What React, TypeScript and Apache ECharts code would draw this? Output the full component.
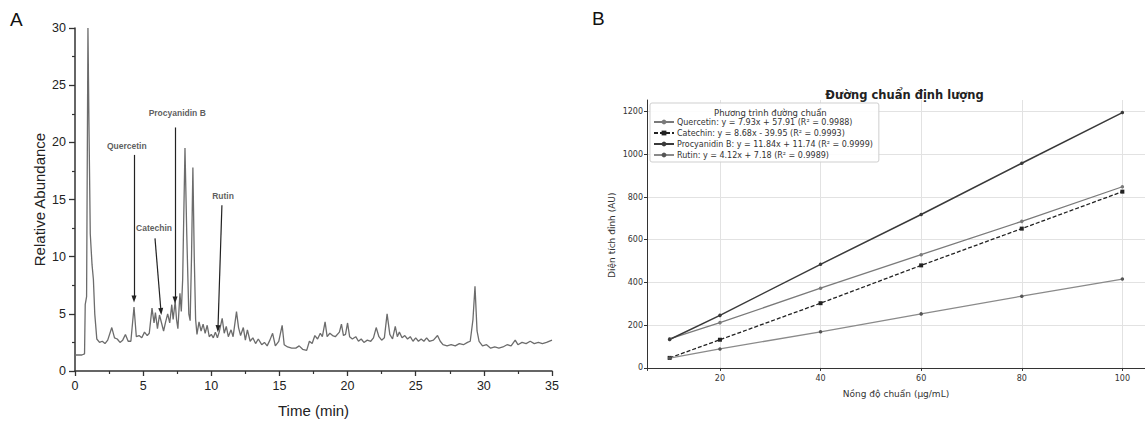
import React, { useEffect, useRef } from "react";
import * as echarts from "echarts";

// ---------- Panel A: chromatogram ----------
const timeMin = [
  0, 0.5, 0.7, 0.75, 0.85, 0.95, 1.02, 1.12, 1.25, 1.35, 1.45, 1.6, 1.8, 2.0, 2.2, 2.4, 2.7, 2.9, 3.1, 3.3,
  3.5, 3.7, 3.9, 4.1, 4.33, 4.5, 4.7, 4.9, 5.1, 5.3, 5.45, 5.65, 5.8, 5.9, 6.05, 6.2, 6.35, 6.5, 6.65, 6.8,
  6.95, 7.1, 7.2, 7.35, 7.45, 7.55, 7.7, 7.8, 7.9, 7.95, 8.07, 8.2, 8.35, 8.45, 8.55, 8.65, 8.75, 8.85, 8.95, 9.1,
  9.25, 9.4, 9.55, 9.7, 9.85, 10.0, 10.15, 10.3, 10.45, 10.6, 10.8, 10.95, 11.1, 11.25, 11.45, 11.6, 11.85, 12.0, 12.15, 12.35,
  12.5, 12.65, 12.85, 13.05, 13.25, 13.45, 13.7, 13.9, 14.1, 14.3, 14.5, 14.7, 14.95, 15.2, 15.35, 15.6, 15.9, 16.2, 16.45, 16.7,
  17.0, 17.2, 17.4, 17.6, 17.8, 18.0, 18.15, 18.35, 18.5, 18.7, 18.9, 19.1, 19.4, 19.55, 19.7, 19.85, 20.0, 20.15, 20.35, 20.6,
  20.8, 21.0, 21.2, 21.45, 21.7, 21.9, 22.1, 22.3, 22.5, 22.7, 22.9, 23.1, 23.3, 23.5, 23.65, 23.8, 24.0, 24.2, 24.4, 24.6,
  24.8, 25.0, 25.2, 25.4, 25.6, 25.8, 26.0, 26.3, 26.6, 26.8, 27.0, 27.3, 27.6, 27.9, 28.2, 28.5, 28.8, 29.0, 29.2, 29.35,
  29.5, 29.65, 29.9, 30.2, 30.5, 30.8, 31.1, 31.4, 31.7, 32.0, 32.3, 32.5, 32.8, 33.1, 33.4, 33.7, 34.0, 34.3, 34.6, 35.0,
];
const abundance = [
  1.4, 1.4, 1.5, 5.8, 6.5, 30, 22, 12, 9.3, 8, 5, 2.8, 2.5, 2.6, 2.4, 2.7, 3.8, 2.9, 2.8, 2.5,
  2.7, 3.2, 2.6, 2.6, 5.6, 3.0, 3.1, 2.9, 3.4, 3.1, 3.3, 5.5, 4.2, 5.1, 3.7, 4.9, 4.2, 3.5, 4.3, 5.0,
  4.2, 5.8, 4.5, 6.1, 4.5, 3.7, 6.8, 5.2, 8, 11.5, 19.5, 12, 5.0, 4.4, 10, 17.8, 10, 4.5, 3.2, 4.3,
  3.5, 4.1, 3.3, 4.0, 3.0, 3.2, 2.9, 3.4, 2.9, 3.5, 4.6, 3.3, 3.9, 3.0, 3.6, 3.0, 5.2, 3.8, 3.1, 3.8,
  2.7, 3.6, 2.6, 2.9, 2.4, 2.8, 2.3, 2.5, 2.2, 2.7, 3.3, 2.2, 2.6, 4.0, 2.3, 2.1, 2.0, 2.0, 2.2, 1.9,
  1.8, 2.6, 2.4, 3.1, 2.8, 3.3, 3.0, 4.3, 3.0, 3.3, 3.1, 3.0, 3.4, 4.1, 3.1, 3.2, 4.2, 3.0, 2.8, 3.0,
  2.6, 2.8, 2.5, 2.7, 2.6, 2.9, 3.8, 3.0, 2.7, 2.9, 5.0, 3.2, 2.8, 3.9, 3.0, 3.4, 2.9, 3.1, 2.8, 3.0,
  2.6, 2.9, 2.6, 2.8, 2.6, 2.9, 2.6, 2.7, 3.1, 2.6, 2.3, 2.2, 2.3, 2.2, 2.4, 2.3, 2.5, 2.6, 4.5, 7.4,
  3.5, 2.6, 2.2, 2.3, 2.0, 2.1, 2.0, 2.1, 2.3, 2.2, 2.7, 2.3, 2.5, 2.4, 2.6, 2.4, 2.5, 2.4, 2.5, 2.7,
];
const peakNames = ["Quercetin", "Catechin", "Procyanidin B", "Rutin"];
// arrow start [t, abundance] and arrow tip [t, abundance]
const arrowFrom = [[4.33, 18.9], [5.87, 11.6], [7.34, 21.3], [10.78, 14.5]];
const arrowTo = [[4.33, 6.3], [6.31, 5.2], [7.34, 6.2], [10.49, 3.7]];
const labelAt = [[3.8, 19.7], [5.8, 12.5], [7.5, 22.6], [10.86, 15.3]];

// ---------- Panel B: calibration curves ----------
const concentration = [10, 20, 40, 60, 80, 100];
const quercetinArea = [136, 212, 373, 530, 686, 848];
const catechinArea = [47, 132, 303, 480, 652, 825];
const procyanidinArea = [133, 246, 485, 718, 958, 1195];
const rutinArea = [46, 89, 169, 253, 336, 416];
const curveNames = [
  "Quercetin: y = 7.93x + 57.91 (R² = 0.9988)",
  "Catechin: y = 8.68x - 39.95 (R² = 0.9993)",
  "Procyanidin B: y = 11.84x + 11.74 (R² = 0.9999)",
  "Rutin: y = 4.12x + 7.18 (R² = 0.9989)",
];
const xTicksB = [20, 40, 60, 80, 100];
const yTicksB = [0, 200, 400, 600, 800, 1000, 1200];

export default function App() {
  const ref = useRef<HTMLDivElement>(null);
  useEffect(() => {
    document.body.style.margin = "0";
    const chart = echarts.init(ref.current!, null, { renderer: "svg" });
    const arial = "Liberation Sans, Arial, sans-serif";
    const dv = "DejaVu Sans, sans-serif";
    const chromData = timeMin.map((t, i) => [t, abundance[i]]);
    const mk = (arr: number[]) => concentration.map((c, i) => [c, arr[i]]);
    const plain = (v: number) => String(v);

    const option: any = {
      animation: false,
      backgroundColor: "#ffffff",
      grid: [
        { left: 75, top: 28, width: 477, height: 343 },
        { left: 647, top: 100, width: 505, height: 270.5 },
      ],
      xAxis: [
        {
          gridIndex: 0, type: "value", min: 0, max: 35, interval: 5,
          name: "Time (min)", nameLocation: "middle", nameGap: 32,
          nameTextStyle: { fontFamily: arial, fontSize: 15, color: "#222" },
          axisLine: { lineStyle: { color: "#333", width: 1.5 } },
          axisTick: { show: true, length: 5, lineStyle: { color: "#333", width: 1.3 } },
          minorTick: { show: true, splitNumber: 2, length: 3, lineStyle: { color: "#333", width: 1.2 } },
          axisLabel: { fontFamily: arial, fontSize: 12.5, color: "#222", margin: 8 },
          splitLine: { show: false },
        },
        {
          gridIndex: 1, type: "value", min: 5.5, max: 104.5,
          name: "Nồng độ chuẩn (µg/mL)", nameLocation: "middle", nameGap: 19,
          nameTextStyle: { fontFamily: dv, fontSize: 9, color: "#333" },
          axisLine: { lineStyle: { color: "#333", width: 1 } },
          axisTick: { show: true, length: 3, customValues: xTicksB, lineStyle: { color: "#333" } },
          axisLabel: { fontFamily: dv, fontSize: 8, color: "#333", margin: 4, customValues: xTicksB, formatter: plain },
          splitLine: { show: true, lineStyle: { color: "#e2e2e2", width: 1 } },
        },
      ],
      yAxis: [
        {
          gridIndex: 0, type: "value", min: 0, max: 30, interval: 5,
          name: "Relative Abundance", nameLocation: "middle", nameGap: 28, nameRotate: 90,
          nameTextStyle: { fontFamily: arial, fontSize: 15, color: "#222" },
          axisLine: { show: true, lineStyle: { color: "#333", width: 1.5 } },
          axisTick: { show: true, length: 6, lineStyle: { color: "#333", width: 1.3 } },
          minorTick: { show: true, splitNumber: 2, length: 3, lineStyle: { color: "#333", width: 1.2 } },
          axisLabel: { fontFamily: arial, fontSize: 12.5, color: "#222", margin: 9 },
          splitLine: { show: false },
        },
        {
          gridIndex: 1, type: "value", min: -12, max: 1254,
          name: "Diện tích đỉnh (AU)", nameLocation: "middle", nameGap: 31, nameRotate: 90,
          nameTextStyle: { fontFamily: dv, fontSize: 9, color: "#333" },
          axisLine: { show: true, lineStyle: { color: "#333", width: 1 } },
          axisTick: { show: true, length: 3, customValues: yTicksB, lineStyle: { color: "#333" } },
          axisLabel: { fontFamily: dv, fontSize: 8, color: "#333", margin: 4, customValues: yTicksB, formatter: plain },
          splitLine: { show: true, lineStyle: { color: "#e2e2e2", width: 1 } },
        },
      ],
      title: {
        text: "Đường chuẩn định lượng",
        left: 899.5, top: 84, textAlign: "center",
        textStyle: { fontFamily: dv, fontSize: 11.5, fontWeight: "bold", color: "#222" },
      },
      legend: {
        data: curveNames,
        orient: "vertical",
        left: 650, top: 103,
        padding: [15, 6, 3, 3],
        itemGap: 3,
        itemWidth: 20, itemHeight: 6,
        backgroundColor: "rgba(255,255,255,0.9)",
        borderColor: "#cfcfcf", borderWidth: 1, borderRadius: 2,
        textStyle: { fontFamily: dv, fontSize: 8, color: "#333", padding: [0, 0, 0, -2] },
      },
      graphic: [
        { type: "text", left: 10, top: 10, style: { text: "A", fontFamily: arial, fontSize: 19, fill: "#111" } },
        { type: "text", left: 592, top: 9, style: { text: "B", fontFamily: arial, fontSize: 19, fill: "#111" } },
        {
          type: "text", left: 714, top: 108,
          style: { text: "Phương trình đường chuẩn", fontFamily: dv, fontSize: 8.5, fill: "#333" },
          z: 100,
        },
      ],
      series: [
        {
          type: "line", xAxisIndex: 0, yAxisIndex: 0, data: chromData,
          showSymbol: false, symbol: "none",
          lineStyle: { color: "#6c6c6c", width: 1.3 },
          markLine: {
            silent: true,
            symbol: ["none", "triangle"], symbolSize: [5, 7],
            lineStyle: { color: "#222", width: 1.2, type: "solid" },
            label: { show: false },
            data: arrowFrom.map((f, i) => [{ coord: f }, { coord: arrowTo[i] }]),
          },
        },
        {
          type: "scatter", xAxisIndex: 0, yAxisIndex: 0,
          data: labelAt.map((p, i) => [p[0], p[1], peakNames[i]]),
          symbolSize: 1, itemStyle: { color: "rgba(0,0,0,0)" }, silent: true,
          label: {
            show: true, position: "inside", formatter: (p: any) => p.value[2],
            fontFamily: arial, fontSize: 8.5, fontWeight: "bold", color: "#333",
          },
        },
        {
          name: curveNames[0], type: "line", xAxisIndex: 1, yAxisIndex: 1, data: mk(quercetinArea),
          symbol: "circle", symbolSize: 3.5,
          lineStyle: { color: "#7a7a7a", width: 1.3 }, itemStyle: { color: "#7a7a7a" },
        },
        {
          name: curveNames[1], type: "line", xAxisIndex: 1, yAxisIndex: 1, data: mk(catechinArea),
          symbol: "rect", symbolSize: 4,
          lineStyle: { color: "#222", width: 1.3, type: [4, 2] }, itemStyle: { color: "#222" },
        },
        {
          name: curveNames[2], type: "line", xAxisIndex: 1, yAxisIndex: 1, data: mk(procyanidinArea),
          symbol: "circle", symbolSize: 3.5,
          lineStyle: { color: "#3a3a3a", width: 1.5 }, itemStyle: { color: "#3a3a3a" },
        },
        {
          name: curveNames[3], type: "line", xAxisIndex: 1, yAxisIndex: 1, data: mk(rutinArea),
          symbol: "circle", symbolSize: 3.5,
          lineStyle: { color: "#8a8a8a", width: 1.3 }, itemStyle: { color: "#555" },
        },
      ],
    };
    chart.setOption(option);
    return () => chart.dispose();
  }, []);
  return <div ref={ref} style={{ width: 1145, height: 423 }} />;
}
